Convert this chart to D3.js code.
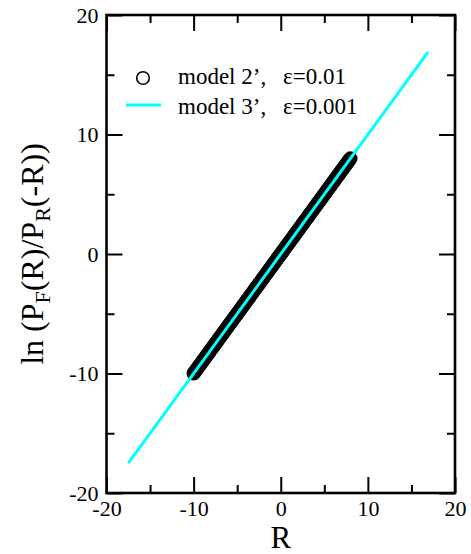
<!DOCTYPE html>
<html>
<head>
<meta charset="utf-8">
<script src="https://cdn.jsdelivr.net/npm/d3@7"></script>
<style>
  html, body { margin: 0; padding: 0; background: #fff; }
  svg { display: block; }
  text { font-family: "Liberation Serif", "Times New Roman", serif; fill: #000; }
</style>
</head>
<body>
<svg id="chart" width="471" height="554"></svg>
<script>
// ---- data ----
const model2X = [-10,-9.9,-9.8,-9.7,-9.6,-9.5,-9.4,-9.3,-9.2,-9.1,
  -9,-8.9,-8.8,-8.7,-8.6,-8.5,-8.4,-8.3,-8.2,-8.1,
  -8,-7.9,-7.8,-7.7,-7.6,-7.5,-7.4,-7.3,-7.2,-7.1,
  -7,-6.9,-6.8,-6.7,-6.6,-6.5,-6.4,-6.3,-6.2,-6.1,
  -6,-5.9,-5.8,-5.7,-5.6,-5.5,-5.4,-5.3,-5.2,-5.1,
  -5,-4.9,-4.8,-4.7,-4.6,-4.5,-4.4,-4.3,-4.2,-4.1,
  -4,-3.9,-3.8,-3.7,-3.6,-3.5,-3.4,-3.3,-3.2,-3.1,
  -3,-2.9,-2.8,-2.7,-2.6,-2.5,-2.4,-2.3,-2.2,-2.1,
  -2,-1.9,-1.8,-1.7,-1.6,-1.5,-1.4,-1.3,-1.2,-1.1,
  -1,-0.9,-0.8,-0.7,-0.6,-0.5,-0.4,-0.3,-0.2,-0.1,
  0,0.1,0.2,0.3,0.4,0.5,0.6,0.7,0.8,0.9,
  1,1.1,1.2,1.3,1.4,1.5,1.6,1.7,1.8,1.9,
  2,2.1,2.2,2.3,2.4,2.5,2.6,2.7,2.8,2.9,
  3,3.1,3.2,3.3,3.4,3.5,3.6,3.7,3.8,3.9,
  4,4.1,4.2,4.3,4.4,4.5,4.6,4.7,4.8,4.9,
  5,5.1,5.2,5.3,5.4,5.5,5.6,5.7,5.8,5.9,
  6,6.1,6.2,6.3,6.4,6.5,6.6,6.7,6.8,6.9,
  7,7.1,7.2,7.3,7.4,7.5,7.6,7.7,7.8,7.9,
  8];
const model2Y = [-10,-9.9,-9.8,-9.7,-9.6,-9.5,-9.4,-9.3,-9.2,-9.1,
  -9,-8.9,-8.8,-8.7,-8.6,-8.5,-8.4,-8.3,-8.2,-8.1,
  -8,-7.9,-7.8,-7.7,-7.6,-7.5,-7.4,-7.3,-7.2,-7.1,
  -7,-6.9,-6.8,-6.7,-6.6,-6.5,-6.4,-6.3,-6.2,-6.1,
  -6,-5.9,-5.8,-5.7,-5.6,-5.5,-5.4,-5.3,-5.2,-5.1,
  -5,-4.9,-4.8,-4.7,-4.6,-4.5,-4.4,-4.3,-4.2,-4.1,
  -4,-3.9,-3.8,-3.7,-3.6,-3.5,-3.4,-3.3,-3.2,-3.1,
  -3,-2.9,-2.8,-2.7,-2.6,-2.5,-2.4,-2.3,-2.2,-2.1,
  -2,-1.9,-1.8,-1.7,-1.6,-1.5,-1.4,-1.3,-1.2,-1.1,
  -1,-0.9,-0.8,-0.7,-0.6,-0.5,-0.4,-0.3,-0.2,-0.1,
  0,0.1,0.2,0.3,0.4,0.5,0.6,0.7,0.8,0.9,
  1,1.1,1.2,1.3,1.4,1.5,1.6,1.7,1.8,1.9,
  2,2.1,2.2,2.3,2.4,2.5,2.6,2.7,2.8,2.9,
  3,3.1,3.2,3.3,3.4,3.5,3.6,3.7,3.8,3.9,
  4,4.1,4.2,4.3,4.4,4.5,4.6,4.7,4.8,4.9,
  5,5.1,5.2,5.3,5.4,5.5,5.6,5.7,5.8,5.9,
  6,6.1,6.2,6.3,6.4,6.5,6.6,6.7,6.8,6.9,
  7,7.1,7.2,7.3,7.4,7.5,7.6,7.7,7.8,7.9,
  8];
const model3X = [-17.5, 16.9];
const model3Y = [-17.5, 16.9];
const xDomain = [-20, 20];
const yDomain = [-20, 20];
const majorTicks = [-20, -10, 0, 10, 20];
const minorTicks = [-15, -5, 5, 15];
const seriesNames = ["model 2\u2019,", "model 3\u2019,"];
const seriesParams = ["\u03b5=0.01", "\u03b5=0.001"];

// ---- layout ----
const L = 106.5, R = 455, T = 15, B = 493;
const svg = d3.select("#chart");
const x = d3.scaleLinear().domain(xDomain).range([L, R]);
const y = d3.scaleLinear().domain(yDomain).range([B, T]);

// data: circles (open)
const pts = model2X.map((v, i) => [v, model2Y[i]]);
svg.append("g").selectAll("circle").data(pts).join("circle")
  .attr("cx", d => x(d[0])).attr("cy", d => y(d[1])).attr("r", 6.3)
  .attr("fill", "none").attr("stroke", "#000").attr("stroke-width", 1.6);

// cyan line
const lpts = model3X.map((v, i) => [v, model3Y[i]]);
svg.append("path").datum(lpts)
  .attr("d", d3.line().x(d => x(d[0])).y(d => y(d[1])))
  .attr("fill", "none").attr("stroke", "#00ffff").attr("stroke-width", 3);

// axes
function styleAxis(g) {
  g.select(".domain").remove();
  g.selectAll(".tick line").attr("stroke", "#000").attr("stroke-width", 2);
  g.selectAll(".tick text").attr("font-size", 22).attr("font-family", "Liberation Serif, serif").attr("fill", "#000");
}
const fmt = d => d3.format("d")(d).replace("\u2212", "-");
svg.append("g").attr("transform", `translate(0,${B})`)
  .call(d3.axisBottom(x).tickValues(majorTicks).tickSize(-16).tickPadding(7).tickFormat(fmt))
  .call(styleAxis);
svg.append("g").attr("transform", `translate(0,${B})`)
  .call(d3.axisBottom(x).tickValues(minorTicks).tickSize(-8).tickFormat(""))
  .call(styleAxis);
svg.append("g").attr("transform", `translate(${L},0)`)
  .call(d3.axisLeft(y).tickValues(majorTicks).tickSize(-16).tickPadding(8).tickFormat(fmt))
  .call(styleAxis);
svg.append("g").attr("transform", `translate(${L},0)`)
  .call(d3.axisLeft(y).tickValues(minorTicks).tickSize(-8).tickFormat(""))
  .call(styleAxis);
svg.append("g").attr("transform", `translate(0,${T})`)
  .call(d3.axisTop(x).tickValues(majorTicks).tickSize(-16).tickFormat(""))
  .call(styleAxis);
svg.append("g").attr("transform", `translate(0,${T})`)
  .call(d3.axisTop(x).tickValues(minorTicks).tickSize(-8).tickFormat(""))
  .call(styleAxis);
svg.append("g").attr("transform", `translate(${R},0)`)
  .call(d3.axisRight(y).tickValues(majorTicks).tickSize(-16).tickFormat(""))
  .call(styleAxis);
svg.append("g").attr("transform", `translate(${R},0)`)
  .call(d3.axisRight(y).tickValues(minorTicks).tickSize(-8).tickFormat(""))
  .call(styleAxis);

// frame
svg.append("rect").attr("x", L).attr("y", T).attr("width", R - L).attr("height", B - T)
  .attr("fill", "none").attr("stroke", "#000").attr("stroke-width", 2.6);

// axis labels
svg.append("text").attr("x", (L + R) / 2).attr("y", 547.7).attr("text-anchor", "middle")
  .attr("font-size", 31).text("R");

const yl = svg.append("text").attr("transform", `translate(43,${(T + B) / 2}) rotate(-90)`)
  .attr("text-anchor", "middle").attr("font-size", 32);
yl.append("tspan").text("ln (P");
yl.append("tspan").attr("font-size", 22).attr("dy", 7).text("F");
yl.append("tspan").attr("dy", -7).text("(R)/P");
yl.append("tspan").attr("font-size", 22).attr("dy", 7).text("R");
yl.append("tspan").attr("dy", -7).text("(-R))");

// legend
const lg = svg.append("g");
lg.append("circle").attr("cx", 143).attr("cy", 78).attr("r", 6.3)
  .attr("fill", "none").attr("stroke", "#000").attr("stroke-width", 1.6);
lg.append("line").attr("x1", 126).attr("x2", 161).attr("y1", 105).attr("y2", 105)
  .attr("stroke", "#00ffff").attr("stroke-width", 3);
seriesNames.forEach((nm, i) => {
  const t = lg.append("text").attr("y", 84 + i * 30).attr("font-size", 23);
  t.append("tspan").attr("x", 178).text(nm);
  t.append("tspan").attr("x", 283).text(seriesParams[i]);
});
</script>
</body>
</html>
